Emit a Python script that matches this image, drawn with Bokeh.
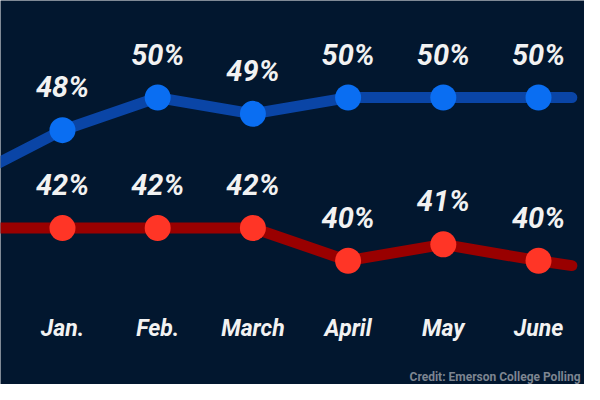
from bokeh.plotting import figure
from bokeh.models import Range1d, Label, ColumnDataSource
from bokeh.core.properties import value
from bokeh.embed import file_html
from bokeh.resources import INLINE

# ---- data ----
months = ["Jan.", "Feb.", "March", "April", "May", "June"]
month_idx = [1, 2, 3, 4, 5, 6]
blue_vals = [48, 50, 49, 50, 50, 50]
red_vals = [42, 42, 42, 40, 41, 40]
# line continues off the left edge (previous month) and a little past June
lead_idx = 0
tail_idx = 6.35
blue_lead, blue_tail = 45, 50
red_lead, red_tail = 42, 39.7
credit = "Credit: Emerson College Polling"

BG = "#02172f"
FONT = "Roboto"
MONTH_ROW_Y = 35.85   # vertical position of the month-name row (data units)

p = figure(width=584, height=384, output_backend="svg", toolbar_location=None,
           x_range=Range1d(0.349, 6.483), y_range=Range1d(32.41, 55.95),
           min_border_left=0, min_border_right=0, min_border_top=0, min_border_bottom=0,
           background_fill_color=BG, border_fill_color=BG, outline_line_color=None)
p.grid.visible = False
p.axis.visible = False

bx = [lead_idx] + month_idx + [tail_idx]
by = [blue_lead] + blue_vals + [blue_tail]
rx = [lead_idx] + month_idx + [tail_idx]
ry = [red_lead] + red_vals + [red_tail]

p.line(bx, by, line_color="#0a45a6", line_width=11, line_cap="round", line_join="round")
p.line(rx, ry, line_color="#990000", line_width=11, line_cap="round", line_join="round")

p.scatter(month_idx, blue_vals, size=26, fill_color="#0a6ef2", line_color=None)
p.scatter(month_idx, red_vals, size=26, fill_color="#ff3526", line_color=None)

bsrc = ColumnDataSource(dict(x=month_idx, y=blue_vals, t=[f"{v}%" for v in blue_vals]))
rsrc = ColumnDataSource(dict(x=month_idx, y=red_vals, t=[f"{v}%" for v in red_vals]))
for src in (bsrc, rsrc):
    p.text(x="x", y="y", text="t", source=src, y_offset=-43,
           text_font=value(FONT), text_font_style="bold italic", text_font_size="29px",
           text_color="#f2f2f2", text_align="center", text_baseline="alphabetic")

msrc = ColumnDataSource(dict(x=month_idx, y=[MONTH_ROW_Y] * len(months), t=months))
p.text(x="x", y="y", text="t", source=msrc,
       text_font=value(FONT), text_font_style="bold italic", text_font_size="23px",
       text_color="#f2f2f2", text_align="center", text_baseline="alphabetic")

p.add_layout(Label(x=580, y=8, x_units="screen", y_units="screen", text=credit,
                   text_align="right", text_baseline="alphabetic",
                   text_font=FONT, text_font_style="bold", text_font_size="12px",
                   text_color="#7d8591"))

open("out.html", "w").write(file_html(p, INLINE))
